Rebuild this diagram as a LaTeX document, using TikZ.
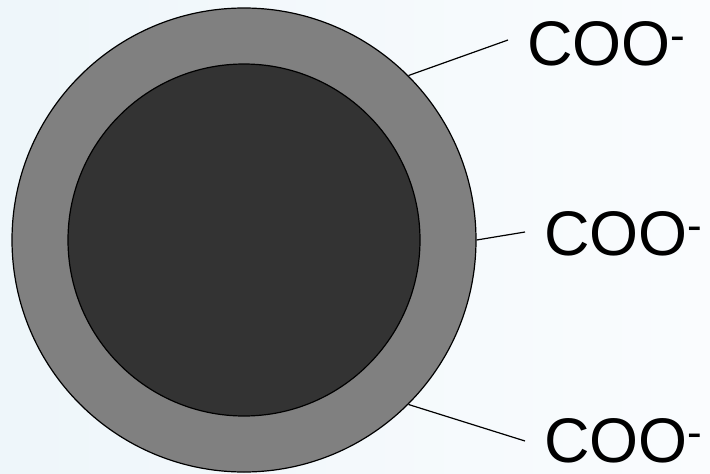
\documentclass[tikz,border=0pt]{standalone}
\usepackage{fontspec}
\setmainfont{Liberation Sans}
\usetikzlibrary{positioning}
\definecolor{bgleft}{RGB}{238,246,250}
\definecolor{bgright}{RGB}{250,252,254}
\definecolor{shellgray}{RGB}{128,128,128}
\definecolor{coregray}{RGB}{51,51,51}
\newcommand{\charge}{\raisebox{15pt}{\fontsize{44}{44}\selectfont -}}
\begin{document}
\begin{tikzpicture}[
        x=1pt, y=-1pt,
        shell/.style={draw, circle, line width=1.2pt, fill=shellgray,
            minimum size=464pt, inner sep=0pt},
        core/.style={draw, circle, line width=1.2pt, fill=coregray,
            minimum size=352pt, inner sep=0pt},
        group/.style={anchor=base west, inner sep=0pt,
            font=\fontsize{63}{63}\selectfont},
        stick/.style={draw, line width=1.2pt},
    ]
    % background
    \shade[left color=bgleft, right color=bgright] (0,0) rectangle (710,474);
    \useasboundingbox (0,0) rectangle (710,474);
    % particle
    \node[shell] (shell) at (244,240) {};
    \node[core] (core) at (244,240) {};
    % surface groups
    \node[group] (cooA) at (527,65) {COO\charge};
    \node[group] (cooB) at (544,255) {COO\charge};
    \node[group] (cooC) at (544,462) {COO\charge};
    \coordinate (endA) at (508,40);
    \coordinate (endB) at (525,232);
    \coordinate (endC) at (525,441);
    \draw[stick] (shell.45) -- (endA);
    \draw[stick] (shell.0) -- (endB);
    \draw[stick] (shell.-45) -- (endC);
\end{tikzpicture}
\end{document}
